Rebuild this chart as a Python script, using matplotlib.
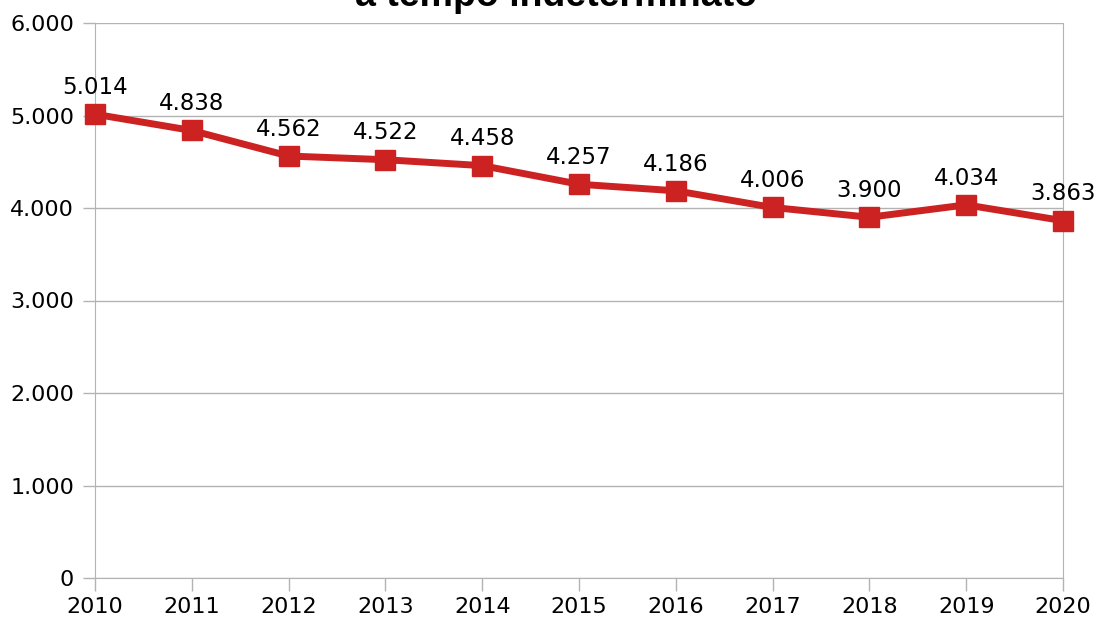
import matplotlib.pyplot as plt

years = ["2010", "2011", "2012", "2013", "2014", "2015", "2016", "2017", "2018", "2019", "2020"]
values = [5014, 4838, 4562, 4522, 4458, 4257, 4186, 4006, 3900, 4034, 3863]
yticks = [0, 1000, 2000, 3000, 4000, 5000, 6000]


def fmt(v):
    return f"{v:,}".replace(",", ".")


fig = plt.figure(figsize=(10.99, 6.24), dpi=100)
ax = fig.add_axes([95 / 1099, 1 - 578 / 624, (1063 - 95) / 1099, (578 - 23) / 624])

x = list(range(len(years)))
ax.plot(x, values, color="#cc2222", lw=5, marker="s", ms=14, zorder=3, clip_on=False)

for xi, v in zip(x, values):
    ax.annotate(fmt(v), (xi, v), xytext=(0, 11), textcoords="offset points",
                ha="center", va="bottom", fontsize=16.5, color="black")

ax.set_xlim(0, len(years) - 1)
ax.set_ylim(0, 6000)
ax.set_xticks(x)
ax.set_xticklabels(years)
ax.set_yticks(yticks)
ax.set_yticklabels([fmt(t) for t in yticks])
ax.grid(axis="y", color="#b3b3b3", lw=1)
ax.set_axisbelow(True)

ax.spines["top"].set_visible(False)
for s in ["left", "right", "bottom"]:
    ax.spines[s].set_color("#b3b3b3")
ax.tick_params(axis="both", colors="#b3b3b3", labelcolor="black", labelsize=16, length=9, width=1)
ax.tick_params(axis="x", pad=5)
ax.tick_params(axis="y", pad=6)

fig.text(0.506, 1 - 6 / 624, "a tempo indeterminato", ha="center", va="baseline",
         fontsize=27, fontweight="bold", family="Liberation Sans")

fig.savefig("out.png", dpi=100)
